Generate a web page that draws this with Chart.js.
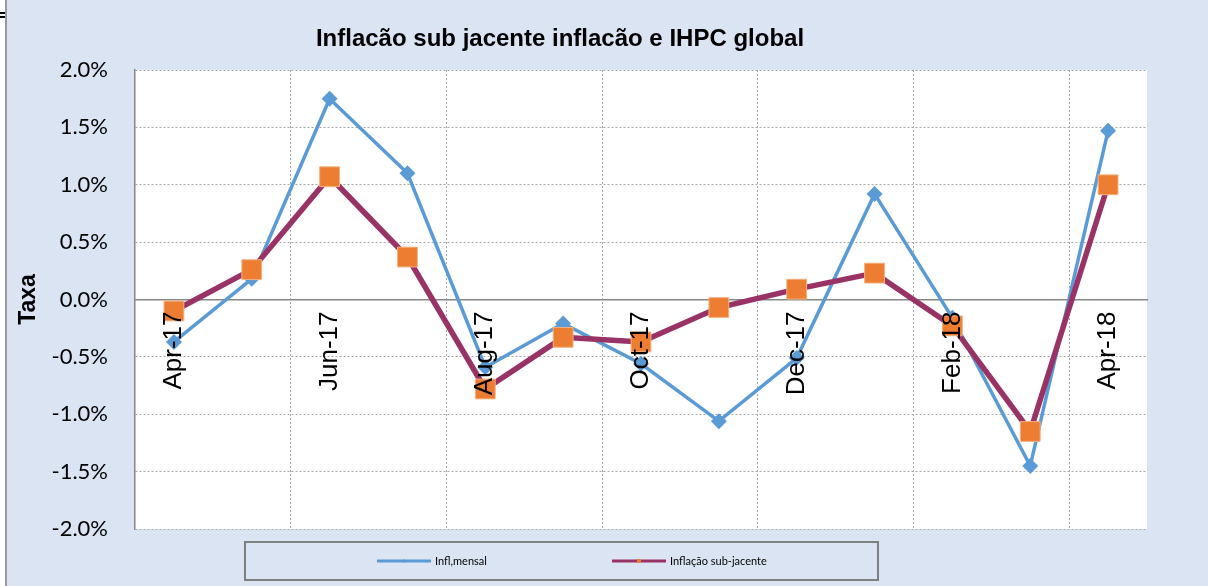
<!DOCTYPE html>
<html>
<head>
<meta charset="utf-8">
<script src="https://cdn.jsdelivr.net/npm/chart.js@4.4.3/dist/chart.umd.min.js"></script>
<style>
  html, body { margin: 0; padding: 0; background: #fff; }
  #wrap { width: 1208px; height: 586px; }
</style>
</head>
<body>
<div id="wrap"><canvas id="chart" width="1208" height="586"></canvas></div>
<script>
/* Inflação sub-jacente vs. inflação mensal (IHPC) — Apr-17 .. Apr-18 */
const chartTitle = 'Inflacão sub jacente inflacão e IHPC global';
const yTitle     = 'Taxa';
const months     = ['Apr-17','May-17','Jun-17','Jul-17','Aug-17','Sep-17','Oct-17','Nov-17','Dec-17','Jan-18','Feb-18','Mar-18','Apr-18'];
const seriesNames = ['Infl,mensal', 'Inflação sub-jacente'];
const inflMensal = [-0.37, 0.18, 1.75, 1.10, -0.59, -0.21, -0.56, -1.06, -0.51, 0.92, -0.16, -1.45, 1.47];
const inflSub    = [-0.10, 0.26, 1.07, 0.37, -0.78, -0.33, -0.37, -0.07, 0.09, 0.23, -0.23, -1.15, 1.00];
const yTicks     = { min: -2, max: 2, step: 0.5 };

const BG     = '#dbe4f3';
const BLUE   = '#5b9bd5';
const PURPLE = '#993366';
const ORANGE = '#ed7d31';
const GRID   = '#a6a6a6';
const AXIS   = '#868686';

/* ── background, title, category labels on top of lines, boxed legend ── */
const frame = {
  id: 'frame',
  beforeDraw(chart) {
    const { ctx, chartArea: a } = chart;
    ctx.save();
    ctx.fillStyle = BG;
    ctx.fillRect(0, 0, chart.width, chart.height);
    ctx.fillStyle = '#fff';
    ctx.fillRect(0, 0, 5, chart.height);
    ctx.fillStyle = '#9a9a9a';
    ctx.fillRect(5, 0, 2, chart.height);
    ctx.fillStyle = '#000';
    ctx.fillRect(0, 12, 5, 2);
    ctx.fillRect(0, 16, 5, 2);
    ctx.fillStyle = '#fff';
    ctx.fillRect(a.left, a.top, a.right - a.left, a.bottom - a.top);
    ctx.restore();
  },
  afterDatasetsDraw(chart) {
    // Excel draws the month labels just under the zero line, above the series
    const { ctx, scales: { x, y } } = chart;
    const y0 = y.getPixelForValue(0) + 12;
    ctx.save();
    ctx.fillStyle = '#000';
    ctx.font = '26px "Liberation Sans", Arial, sans-serif';
    ctx.textAlign = 'right';
    ctx.textBaseline = 'middle';
    months.forEach((m, i) => {
      if (i % 2) return;
      ctx.save();
      ctx.translate(x.getPixelForValue(i), y0);
      ctx.rotate(-Math.PI / 2);
      ctx.fillText(m, 0, 0);
      ctx.restore();
    });
    ctx.restore();
  },
  afterDraw(chart) {
    const { ctx } = chart;
    ctx.save();
    // title
    ctx.fillStyle = '#000';
    ctx.font = 'bold 24px "Liberation Sans", Arial, sans-serif';
    ctx.textAlign = 'center';
    ctx.textBaseline = 'alphabetic';
    ctx.fillText(chartTitle, 560, 46);

    // legend box
    ctx.strokeStyle = '#808080';
    ctx.lineWidth = 2;
    ctx.strokeRect(245, 542, 633, 38);

    const ly = 561;
    const items = [
      { x: 377, color: BLUE, mark: BLUE, diamond: true },
      { x: 612, color: PURPLE, mark: ORANGE, diamond: false }
    ];
    items.forEach((it, i) => {
      ctx.strokeStyle = it.color;
      ctx.lineWidth = 3;
      ctx.beginPath();
      ctx.moveTo(it.x, ly);
      ctx.lineTo(it.x + 54, ly);
      ctx.stroke();
      ctx.fillStyle = it.mark;
      const cx = it.x + 27;
      if (it.diamond) {
        ctx.beginPath();
        ctx.moveTo(cx, ly - 2); ctx.lineTo(cx + 2, ly); ctx.lineTo(cx, ly + 2); ctx.lineTo(cx - 2, ly);
        ctx.closePath(); ctx.fill();
      } else {
        ctx.fillRect(cx - 2, ly - 2, 4, 4);
      }
      ctx.fillStyle = '#000';
      ctx.font = '11px Lato, "Open Sans", sans-serif';
      ctx.textAlign = 'left';
      ctx.textBaseline = 'middle';
      ctx.fillText(seriesNames[i], it.x + 58, ly);
    });
    ctx.restore();
  }
};

new Chart(document.getElementById('chart'), {
  type: 'line',
  data: {
    labels: months,
    datasets: [
      {
        label: seriesNames[0], data: inflMensal, order: 1,
        borderColor: BLUE, backgroundColor: BLUE, borderWidth: 3.5,
        pointStyle: 'rectRot', pointRadius: 8, pointBorderWidth: 0,
        pointBackgroundColor: BLUE, tension: 0
      },
      {
        label: seriesNames[1], data: inflSub, order: 0,
        borderColor: PURPLE, backgroundColor: ORANGE, borderWidth: 5.5,
        pointStyle: 'rect', pointRadius: 14, pointBorderWidth: 1,
        pointBorderColor: '#f4b183', pointBackgroundColor: ORANGE, tension: 0
      }
    ]
  },
  options: {
    responsive: false,
    animation: false,
    layout: { padding: { left: 8, right: 61, top: 70, bottom: 57 } },
    plugins: { legend: { display: false }, title: { display: false }, tooltip: { enabled: false } },
    scales: {
      x: {
        type: 'category',
        position: { y: 0 },
        offset: true,
        grid: {
          offset: true, drawTicks: false, lineWidth: 1,
          color: c => (c.index % 2 === 0 && c.index > 0 && c.index < months.length) ? GRID : 'rgba(0,0,0,0)'
        },
        border: { display: true, color: AXIS, width: 1.5, dash: [2, 2] },
        ticks: { display: false }
      },
      y: {
        min: yTicks.min, max: yTicks.max,
        afterFit: s => { s.width = 127; },
        grid: { color: GRID, lineWidth: 1, drawTicks: false },
        border: { display: true, color: AXIS, width: 1.5, dash: [2, 2] },
        ticks: {
          stepSize: yTicks.step, padding: 27, color: '#000',
          font: { family: 'Lato, "Open Sans", sans-serif', size: 22 },
          callback: v => v.toFixed(1) + '%'
        },
        title: {
          display: true, text: yTitle, color: '#000', padding: { top: 7, bottom: 0 },
          font: { family: '"Liberation Sans", Arial, sans-serif', size: 23, weight: 'bold' }
        }
      }
    }
  },
  plugins: [frame]
});
</script>
</body>
</html>
